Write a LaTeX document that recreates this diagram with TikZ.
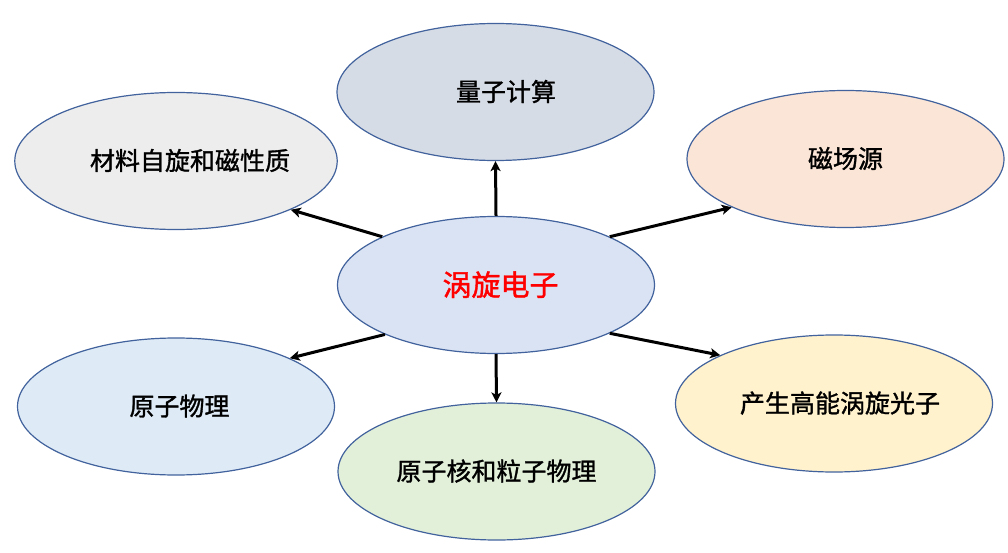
\documentclass[tikz,border=0pt]{standalone}
\usepackage{fontspec}
\newfontfamily\cjk{Noto Sans CJK SC}[FakeBold=1.3]
\usetikzlibrary{shapes.geometric,arrows.meta}
\definecolor{edgeblue}{HTML}{41629C}
\definecolor{fcenter}{HTML}{DAE3F3}
\definecolor{ftop}{HTML}{D6DCE5}
\definecolor{fgray}{HTML}{EDEDED}
\definecolor{forange}{HTML}{FBE5D6}
\definecolor{fblue}{HTML}{DEEBF7}
\definecolor{fgreen}{HTML}{E2F0D9}
\definecolor{fyellow}{HTML}{FFF2CC}
\newcommand{\lbl}[2]{\hspace*{#1}\raisebox{3pt}{#2}}
\tikzset{
  bubble/.style={ellipse, draw=edgeblue, line width=1.2pt, minimum width=317pt,
    minimum height=137pt, inner sep=0pt, font=\cjk\fontsize{25pt}{30pt}\selectfont},
  link/.style={line width=3pt, -{Stealth[length=10pt,width=10pt,inset=2.5pt]}}
}
\begin{document}
\begin{tikzpicture}[x=1pt,y=-1pt]
\useasboundingbox (0,0) rectangle (1008,553);
\node[bubble, fill=fcenter, font=\cjk\fontsize{29pt}{34pt}\selectfont, text=red] (c) at (496,285) {\lbl{9pt}{涡旋电子}};
\node[bubble, fill=ftop] (t) at (495.5,92) {\lbl{21pt}{量子计算}};
\node[bubble, fill=fgray] (tl) at (176,161) {\lbl{28pt}{材料自旋和磁性质}};
\node[bubble, fill=forange] (tr) at (845.5,159) {\lbl{0pt}{磁场源}};
\node[bubble, fill=fblue] (bl) at (176,406.5) {\lbl{7pt}{原子物理}};
\node[bubble, fill=fgreen] (b) at (496.5,471.5) {\lbl{0pt}{原子核和粒子物理}};
\node[bubble, fill=fyellow] (br) at (834,403.5) {\lbl{12pt}{产生高能涡旋光子}};
\draw[link] (c.north) -- (t.south);
\draw[link] (c.157) -- (tl.337);
\draw[link] (c.23) -- (tr.203);
\draw[link] (c.204) -- (bl.23);
\draw[link] (c.south) -- (b.north);
\draw[link] (c.337) -- (br.157);
\end{tikzpicture}
\end{document}
